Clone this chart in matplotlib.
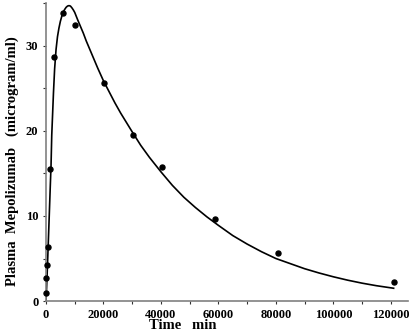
import matplotlib
matplotlib.use("Agg")
import matplotlib.pyplot as plt
from matplotlib.ticker import MultipleLocator

# observed data points
time_obs = [60, 120, 240, 700, 1500, 2880, 5760, 10080, 20160, 30240, 40320, 58900, 80640, 120960]
conc_obs = [0.9, 2.7, 4.2, 6.4, 15.5, 28.7, 33.9, 32.5, 25.7, 19.5, 15.8, 9.6, 5.7, 2.2]

# fitted curve
time_fit = [0, 200, 400, 600, 800, 1000, 1250, 1500, 1750, 2000, 2300, 2600, 3000, 3500,
            4000, 4500, 5000, 5500, 6000, 6500, 7000, 7500, 8000, 8500, 9000, 9500, 10000,
            11000, 12000, 13000, 14000, 15000, 16500, 18000, 20000, 22000, 24000, 26000,
            28000, 30000, 33000, 36000, 40000, 44000, 48000, 52000, 56000, 60000, 65000,
            70000, 75000, 80000, 85000, 90000, 95000, 100000, 105000, 110000, 115000, 121000]
conc_fit = [0, 1.5, 3.2, 5.0, 6.9, 8.8, 11.2, 13.6, 15.9, 19.5, 22.0, 24.5, 27.3, 29.6,
            31.1, 32.1, 32.9, 33.5, 34.0, 34.3, 34.55, 34.7, 34.75, 34.7, 34.5, 34.25, 33.95,
            33.1, 32.3, 31.5, 30.6, 29.8, 28.6, 27.4, 25.9, 24.6, 23.3, 22.1,
            21.0, 19.9, 18.3, 16.9, 15.2, 13.6, 12.2, 11.0, 9.9, 8.9, 7.7,
            6.7, 5.8, 5.0, 4.4, 3.8, 3.3, 2.85, 2.45, 2.1, 1.8, 1.5]

xticks = [0, 20000, 40000, 60000, 80000, 100000, 120000]
yticks = [0, 10, 20, 30]

W, H = 410, 332
fig = plt.figure(figsize=(W / 100, H / 100), dpi=100)
left, right, bottom, top = 46, 408, 301, 3.5
ax = fig.add_axes([left / W, (H - bottom) / H, (right - left) / W, (bottom - top) / H])

ax.plot(time_fit, conc_fit, color="black", lw=1.2, zorder=2, solid_joinstyle="round")
ax.plot(time_obs, conc_obs, "o", color="black", ms=3.6, zorder=3, clip_on=False)

ax.set_xlim(0, 126000)
ax.set_ylim(0, 35)
ax.set_xticks(xticks)
ax.set_yticks(yticks)
ax.xaxis.set_minor_locator(MultipleLocator(10000))
ax.yaxis.set_minor_locator(MultipleLocator(5))

for s in ["top", "right"]:
    ax.spines[s].set_visible(False)
for s in ["left", "bottom"]:
    ax.spines[s].set_color("#808080")
    ax.spines[s].set_linewidth(1.2)

font = "Liberation Serif"
ax.tick_params(which="both", direction="out", length=2.5, width=0.8, color="#333333")
ax.tick_params(which="major", labelsize=9, pad=3)
for lab in ax.get_xticklabels() + ax.get_yticklabels():
    lab.set_fontfamily(font)
    lab.set_fontweight("bold")

ax.set_xlabel("Time   min", fontfamily=font, fontweight="bold", fontsize=10.5)
ax.xaxis.set_label_coords(0.378, -0.062)
ax.set_ylabel("Plasma  Mepolizumab   (microgram/ml)", fontfamily=font, fontweight="bold",
              fontsize=10.5)
ax.yaxis.set_label_coords(-0.075, 0.47)

fig.savefig("out.png", dpi=100)
